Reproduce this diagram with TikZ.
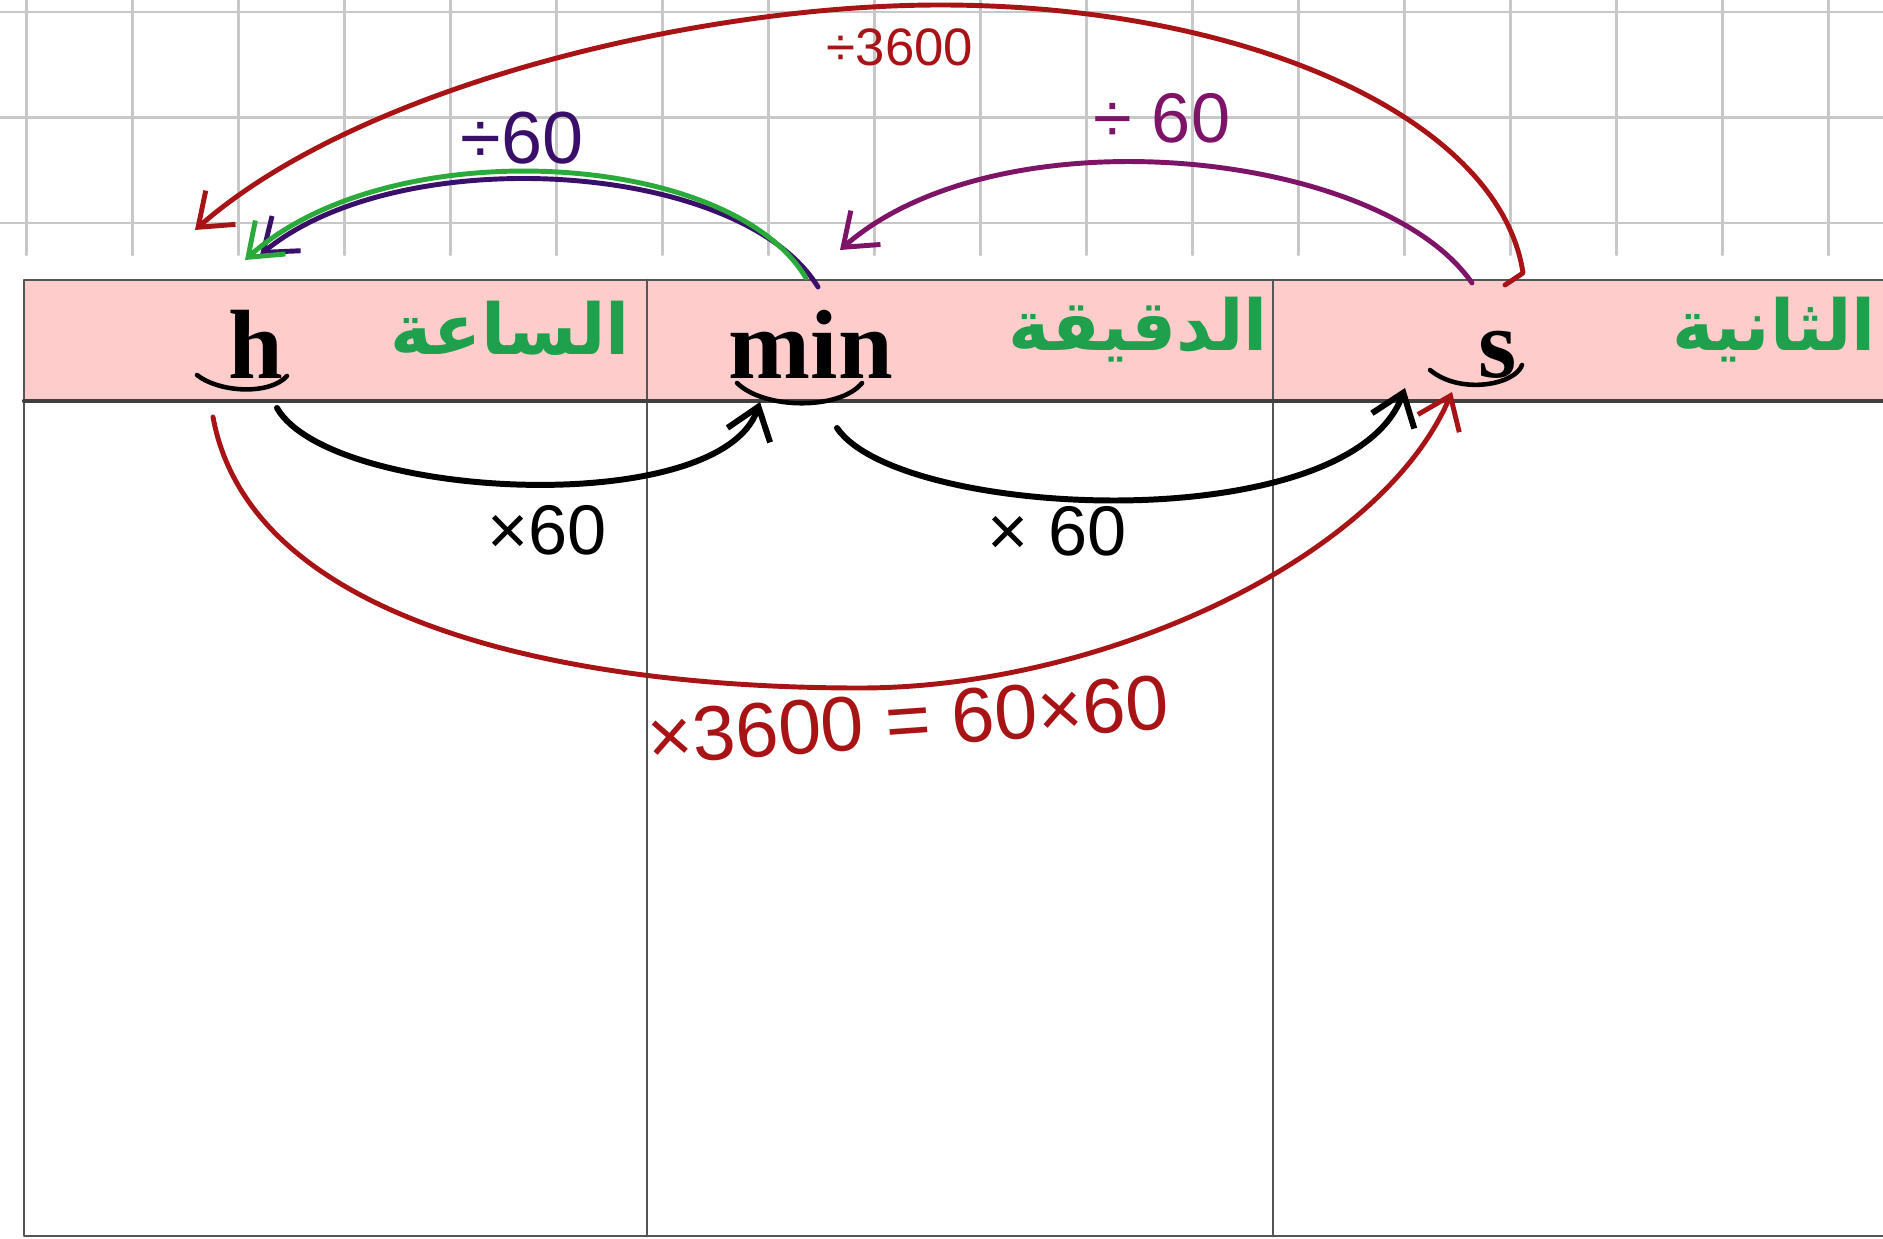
\documentclass[tikz,border=0pt]{standalone}
\usepackage{fontspec}
\setmainfont{Liberation Serif}
\newfontfamily\arabicfont[Script=Arabic]{DejaVu Sans}
\newfontfamily\handfont{Liberation Sans}
\TeXXeTstate=1
\usepackage{tikz}
\usetikzlibrary{arrows.meta,calc}
\definecolor{pinkhead}{HTML}{FFCCCC}
\definecolor{arabgreen}{HTML}{1EA04C}
\definecolor{inkred}{HTML}{A81416}
\definecolor{inkplum}{HTML}{7E1468}
\definecolor{inkindigo}{HTML}{3A0F6A}
\definecolor{inkgreen}{HTML}{2AAA3A}
\definecolor{gridgray}{HTML}{C8C8C8}
\definecolor{rulegray}{HTML}{555555}
\tikzset{
  gridline/.style={draw=gridgray,line width=0.6pt},
  tabrule/.style={draw=rulegray,line width=0.8pt},
  headrule/.style={draw=black!75,line width=1.2pt},
  unitlbl/.style={anchor=base,inner sep=0pt,font=\fontsize{28}{30}\selectfont\bfseries},
  arablbl/.style={inner sep=0pt,text=arabgreen,font=\fontsize{20}{24}\selectfont\arabicfont\bfseries},
  inklbl/.style={inner sep=0pt,font=\handfont},
  ink/.style={line width=1.4pt,-{Straight Barb[length=3mm,width=4.5mm]}},
  inkdark/.style={ink,line width=1.7pt,draw=black},
  smile/.style={line width=1.3pt,draw=black}
}
\begin{document}
\begin{tikzpicture}[line cap=round,line join=round]
  \useasboundingbox (0,0) rectangle (18.83,-12.39);
  \fill[white] (0,0) rectangle (18.83,-12.39);
  % squared paper above the table
  \foreach \i in {0,...,17}
    \draw[gridline] ({0.265+1.06*\i},0) -- ++(0,-2.55);
  \foreach \y in {0.12,1.175,2.23}
    \draw[gridline] (0,-\y) -- (18.83,-\y);
  % table
  \fill[pinkhead] (0.24,-2.80) rectangle (18.83,-4.01);
  \draw[tabrule] (18.83,-2.80) -- (0.24,-2.80) -- (0.24,-12.36) -- (18.83,-12.36);
  \draw[tabrule] (6.47,-2.80) -- (6.47,-12.36);
  \draw[tabrule] (12.73,-2.80) -- (12.73,-12.36);
  \draw[headrule] (0.24,-4.01) -- (18.83,-4.01);
  % header
  \node[unitlbl] (hunit) at (2.56,-3.78) {h};
  \node[unitlbl] (minunit) at (8.11,-3.78) {min};
  \node[unitlbl] (sunit) at (14.98,-3.77) {s};
  \node[arablbl] (harab) at (5.10,-3.28) {\beginR الساعة\endR};
  \node[arablbl] (minarab) at (11.38,-3.30) {\beginR الدقيقة\endR};
  \node[arablbl] (sarab) at (17.74,-3.30) {\beginR الثانية\endR};
  % marks under the units
  \draw[smile] (1.97,-3.75) .. controls (2.20,-3.93) and (2.70,-3.95) .. (2.87,-3.76);
  \draw[smile] (7.37,-3.83) .. controls (7.65,-4.10) and (8.40,-4.10) .. (8.62,-3.83);
  \draw[smile] (14.30,-3.70) .. controls (14.60,-3.95) and (15.15,-3.85) .. (15.22,-3.65);
  % ends of the arcs
  \coordinate (rt-s) at (15.05,-2.85);
  \coordinate (rt-h) at (1.95,-2.30);
  \coordinate (pu-s) at (14.72,-2.83);
  \coordinate (pu-min) at (8.40,-2.50);
  \coordinate (in-min) at (8.18,-2.87);
  \coordinate (in-h) at (2.60,-2.55);
  \coordinate (gr-min) at (8.06,-2.78);
  \coordinate (gr-h) at (2.45,-2.60);
  \coordinate (bk-h) at (2.77,-4.08);
  \coordinate (bk-min) at (7.60,-4.02);
  \coordinate (bk-min2) at (8.37,-4.28);
  \coordinate (bk-s) at (14.05,-3.88);
  \coordinate (rb-h) at (2.13,-4.17);
  \coordinate (rb-s) at (14.52,-3.92);
  % division arcs
  \draw[ink,draw=inkred] (rt-s) -- (15.23,-2.73) .. controls (15.00,-1.20) and (12.50,-0.05) .. (9.40,-0.05)
    .. controls (7.00,-0.05) and (3.60,-0.85) .. (rt-h);
  \draw[ink,draw=inkplum] (pu-s) .. controls (13.80,-1.50) and (10.00,-1.10) .. (pu-min);
  \draw[ink,draw=inkindigo] (in-min) .. controls (7.40,-1.60) and (4.00,-1.40) .. (in-h);
  \draw[ink,draw=inkgreen] (gr-min) .. controls (7.30,-1.50) and (3.90,-1.30) .. (gr-h);
  % multiplication arcs
  \draw[inkdark] (bk-h) .. controls (3.30,-5.00) and (7.20,-5.20) .. (bk-min);
  \draw[inkdark] (bk-min2) .. controls (9.00,-5.20) and (13.50,-5.40) .. (bk-s);
  \draw[ink,draw=inkred] (rb-h) .. controls (2.50,-6.20) and (5.60,-6.88) .. (8.60,-6.88)
    .. controls (11.00,-6.88) and (13.80,-5.60) .. (rb-s);
  % factors
  \node[inklbl,text=inkred,font=\handfont\fontsize{15}{17}\selectfont] (divbig) at (9.00,-0.47) {÷3600};
  \node[inklbl,text=inkplum,font=\handfont\fontsize{20}{22}\selectfont] (divsm) at (11.62,-1.18) {÷ 60};
  \node[inklbl,text=inkindigo,font=\handfont\fontsize{21}{23}\selectfont] (divhm) at (5.22,-1.38) {÷60};
  \node[inklbl,font=\handfont\fontsize{20}{22}\selectfont] (mulhm) at (5.47,-5.30) {×60};
  \node[inklbl,font=\handfont\fontsize{20}{22}\selectfont] (mulms) at (10.57,-5.31) {× 60};
  \node[inklbl,text=inkred,rotate=4,font=\handfont\fontsize{22}{24}\selectfont] (mulbig) at (9.08,-7.20) {×3600 = 60×60};
\end{tikzpicture}
\end{document}
